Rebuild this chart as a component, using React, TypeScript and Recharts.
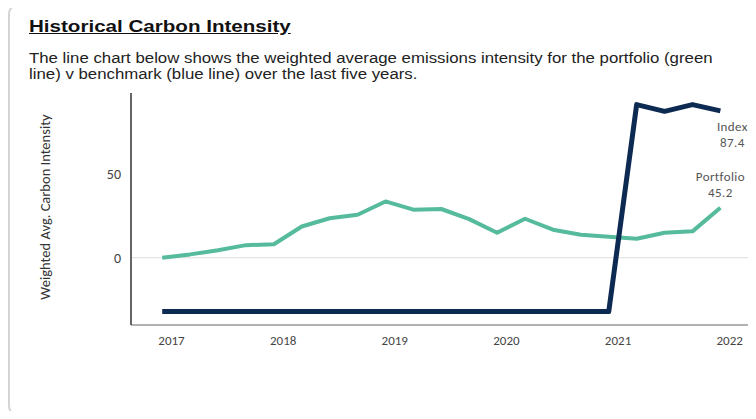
import { LineChart, Line, XAxis, YAxis, ReferenceLine, LabelList } from "recharts";

// quarter-end dates of each observation
const dates = [
  "2016-12", "2017-03", "2017-06", "2017-09", "2017-12",
  "2018-03", "2018-06", "2018-09", "2018-12",
  "2019-03", "2019-06", "2019-09", "2019-12",
  "2020-03", "2020-06", "2020-09", "2020-12",
  "2021-03", "2021-06", "2021-09", "2021-12",
];

const portfolio = [
  0, 2, 4.5, 7.5, 8, 18.6, 23.5, 25.6, 33.5, 28.6, 29, 23, 14.9, 23.2, 16.7,
  13.7, 12.5, 11.3, 14.9, 15.7, 29.8,
];

const benchmark = [
  -32, -32, -32, -32, -32, -32, -32, -32, -32, -32, -32, -32, -32, -32, -32,
  -32, -32, 91.1, 87.1, 91.1, 87.4,
];

const yearTicks = [2017, 2018, 2019, 2020, 2021, 2022];
const valueTicks = [0, 50];

const endLabels = {
  portfolio: ["Portfolio", "45.2"],
  index: ["Index", "87.4"],
};

const toYear = (d: string) => {
  const [y, m] = d.split("-").map(Number);
  return y + (m - 1) / 12;
};

const chartData = dates.map((d, i) => ({
  t: toYear(d),
  portfolio: portfolio[i],
  index: benchmark[i],
}));

const FONT = "Carlito, 'Liberation Sans', Arial, sans-serif";
const last = dates.length - 1;

const endLabel =
  (lines: string[], dx: number, dys: number[]) => (props: any) => {
    if (props.index !== last) return null;
    return (
      <g>
        {lines.map((s, k) => (
          <text
            key={k}
            x={props.x + dx}
            y={props.y + dys[k]}
            textAnchor="middle"
            dominantBaseline="central"
            fontSize={13}
            fontFamily={FONT}
            fill="#555"
            letterSpacing={0.4}
          >
            {s}
          </text>
        ))}
      </g>
    );
  };

export default function App() {
  return (
    <div
      style={{
        position: "relative",
        width: 756,
        height: 419,
        margin: -8,
        overflow: "hidden",
        background: "#fff",
        fontFamily: "'Liberation Sans', Arial, sans-serif",
      }}
    >
      <div
        style={{
          position: "absolute",
          left: 8,
          top: 4,
          width: 780,
          height: 408,
          border: "2px solid #d4d4d4",
          borderRadius: 10,
        }}
      />
      <div
        style={{
          position: "absolute",
          left: 29,
          top: 17,
          fontSize: 17,
          lineHeight: "19px",
          fontWeight: "bold",
          textDecoration: "underline",
          color: "#111",
          whiteSpace: "nowrap",
          transform: "scaleX(1.21)",
          transformOrigin: "left top",
        }}
      >
        Historical Carbon Intensity
      </div>
      <div
        style={{
          position: "absolute",
          left: 29,
          top: 50,
          fontSize: 14,
          lineHeight: "16px",
          color: "#222",
          whiteSpace: "nowrap",
          transform: "scaleX(1.2)",
          transformOrigin: "left top",
        }}
      >
        The line chart below shows the weighted average emissions intensity for the portfolio (green
        <br />
        line) v benchmark (blue line) over the last five years.
      </div>
      <div style={{ position: "absolute", left: 0, top: 0 }}>
        <LineChart
          width={756}
          height={419}
          data={chartData}
          margin={{ top: 93, right: 4, bottom: 64, left: 71 }}
        >
          <XAxis
            dataKey="t"
            type="number"
            domain={[2016.637, 2022.2]}
            ticks={yearTicks}
            allowDataOverflow
            height={30}
            tickLine={false}
            tickMargin={5}
            axisLine={{ stroke: "#666", strokeWidth: 1 }}
            tick={{ fill: "#444", fontSize: 13, fontFamily: FONT }}
          />
          <YAxis
            type="number"
            domain={[-40, 98]}
            ticks={valueTicks}
            allowDataOverflow
            width={60}
            tickLine={false}
            tickMargin={4}
            axisLine={{ stroke: "#333", strokeWidth: 1.5 }}
            tick={{ fill: "#444", fontSize: 14, fontFamily: FONT }}
            label={{
              content: () => (
                <text
                  x={45}
                  y={207}
                  transform="rotate(-90 45 207)"
                  textAnchor="middle"
                  dominantBaseline="central"
                  fontSize={14.5}
                  fontFamily={FONT}
                  fill="#333"
                >
                  Weighted Avg. Carbon Intensity
                </text>
              ),
            }}
          />
          <ReferenceLine y={0} stroke="#ddd" strokeWidth={1} />
          <Line
            dataKey="portfolio"
            stroke="#55bb9c"
            strokeWidth={4}
            strokeLinejoin="round"
            dot={false}
            isAnimationActive={false}
          >
            <LabelList content={endLabel(endLabels.portfolio, 0, [-31, -15])} />
          </Line>
          <Line
            dataKey="index"
            stroke="#0c2a52"
            strokeWidth={5}
            strokeLinejoin="round"
            dot={false}
            isAnimationActive={false}
          >
            <LabelList content={endLabel(endLabels.index, 12, [16, 32])} />
          </Line>
        </LineChart>
      </div>
    </div>
  );
}
